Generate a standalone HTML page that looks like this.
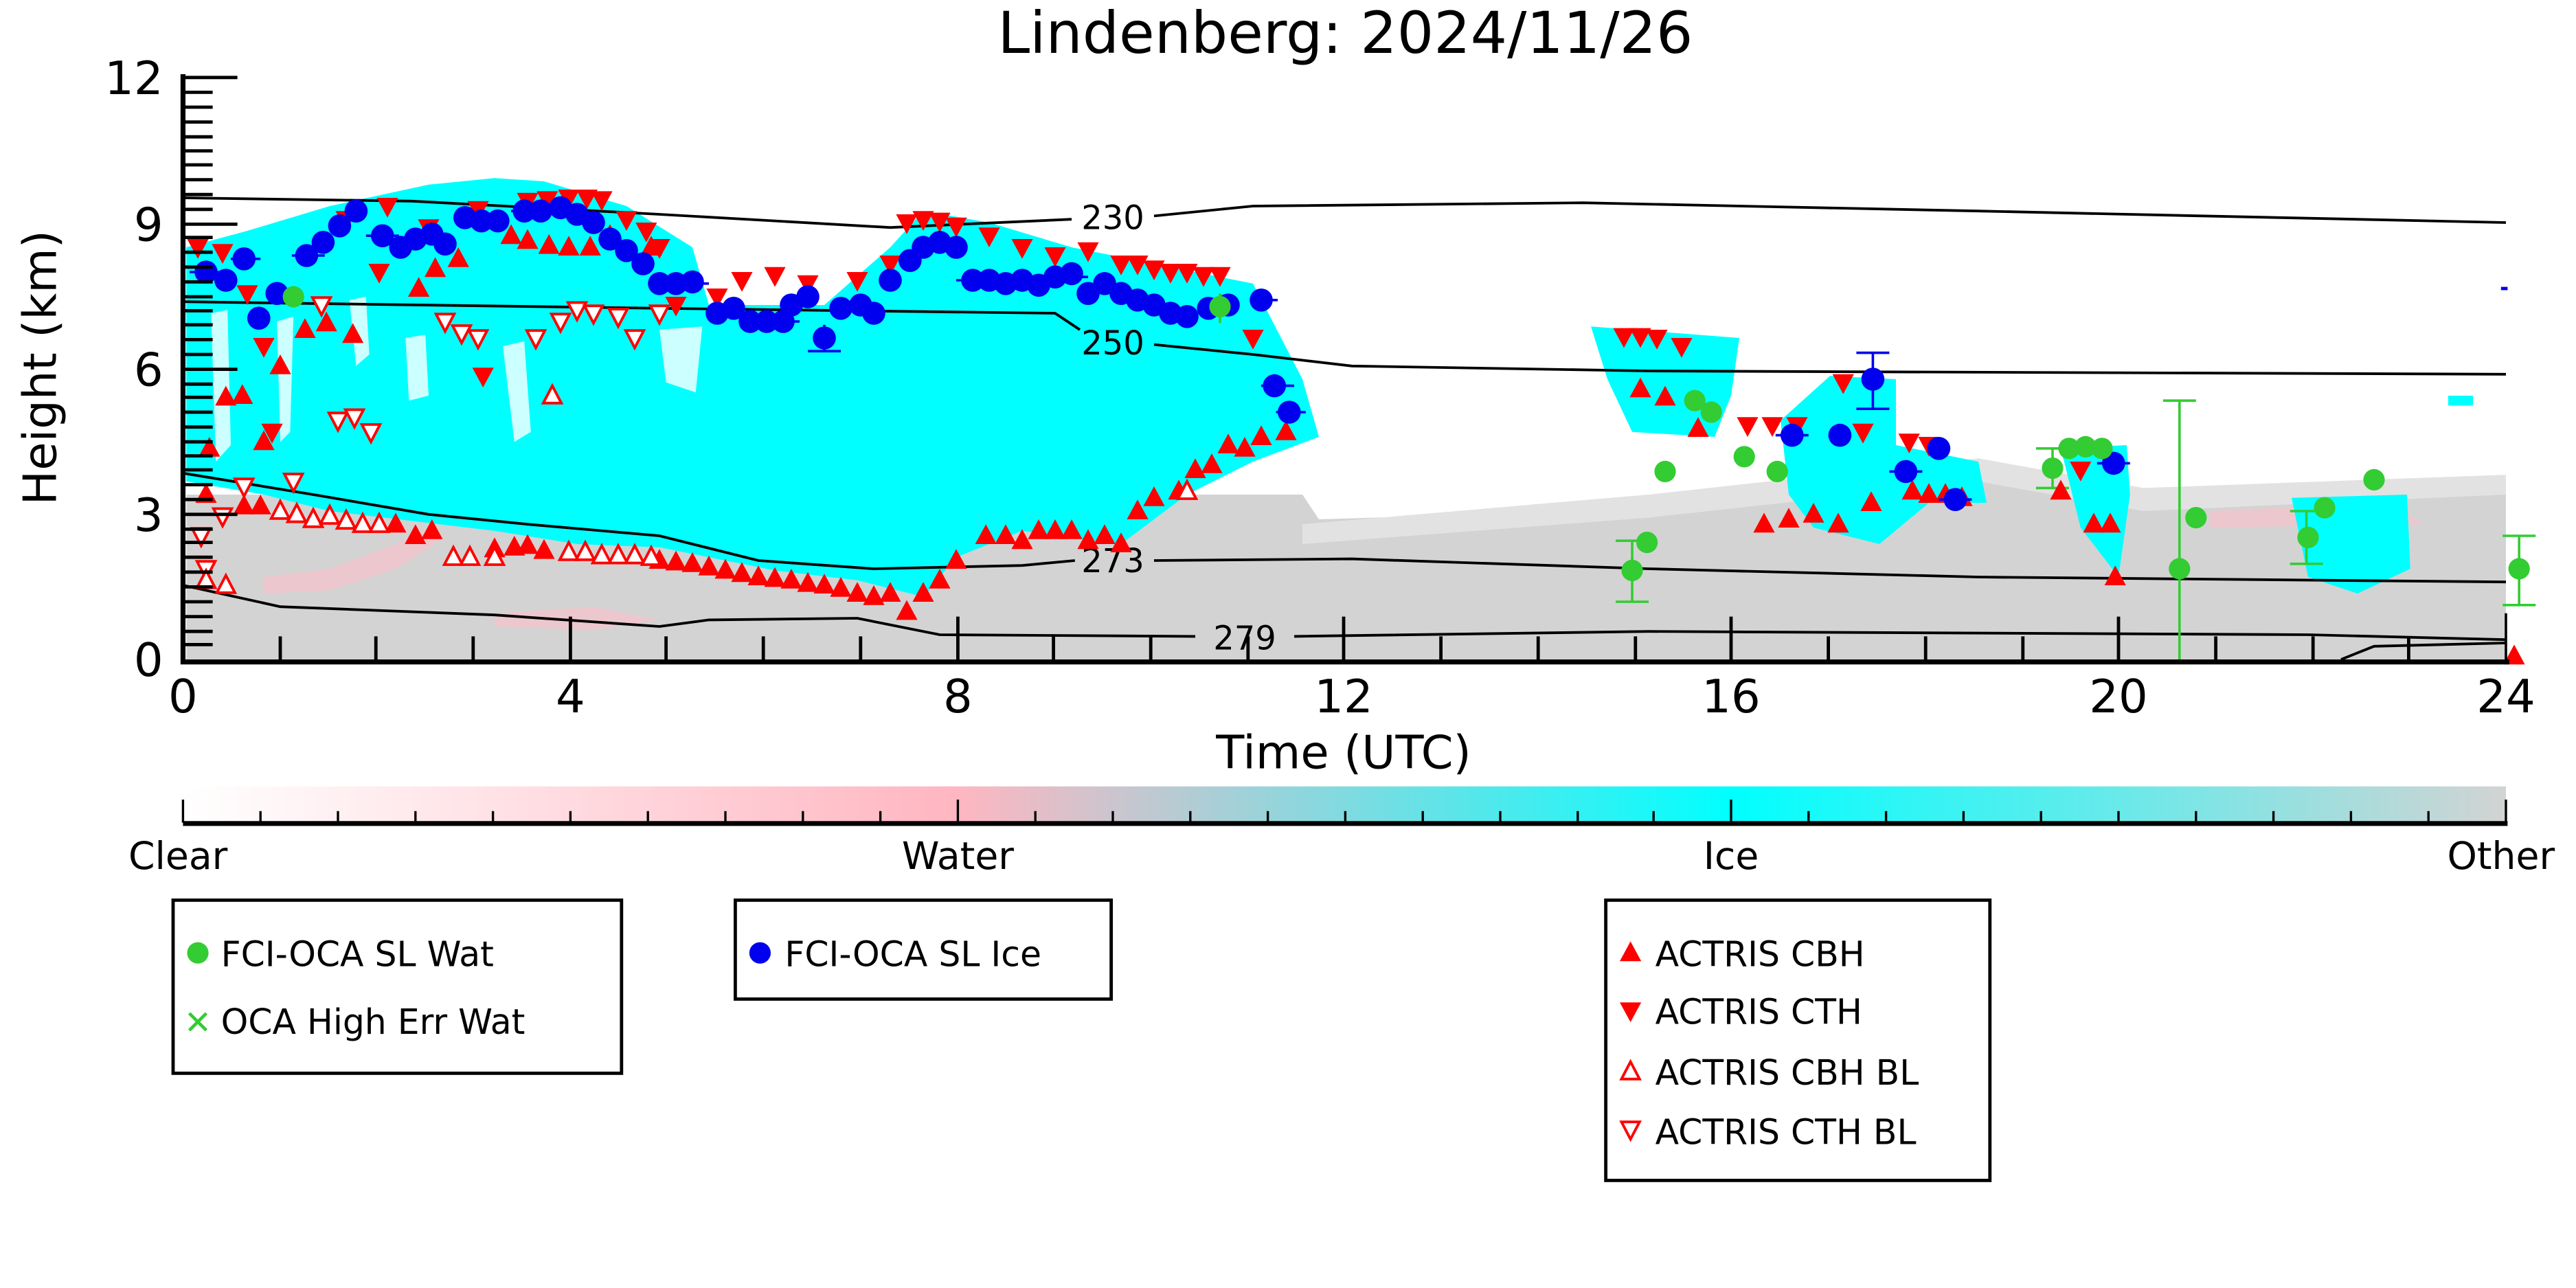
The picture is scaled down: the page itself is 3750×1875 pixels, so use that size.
<!DOCTYPE html>
<html><head><meta charset="utf-8"><style>html,body{margin:0;padding:0;background:#fff}svg{display:block}</style></head><body>
<svg width="3750" height="1875" viewBox="0 0 1562.5 781.25" xmlns="http://www.w3.org/2000/svg" font-family="DejaVu Sans, Liberation Sans, sans-serif">
<defs>
<linearGradient id="cb" x1="0" x2="1" y1="0" y2="0">
<stop offset="0" stop-color="#ffffff"/><stop offset="0.333" stop-color="#ffb6c1"/><stop offset="0.667" stop-color="#00ffff"/><stop offset="1" stop-color="#d3d3d3"/></linearGradient>
<circle id="bc" r="7" fill="#0000ee"/>
<circle id="gc" r="6.5" fill="#33cc33"/>
<path id="tu" d="M0,-7 L6.5,5 L-6.5,5Z" fill="#ff0000"/>
<path id="td" d="M0,7 L6.5,-5 L-6.5,-5Z" fill="#ff0000"/>
<path id="ou" d="M0,-6 L5.5,4.5 L-5.5,4.5Z" fill="#fff" stroke="#ff0000" stroke-width="1.6"/>
<path id="od" d="M0,6 L5.5,-4.5 L-5.5,-4.5Z" fill="#fff" stroke="#ff0000" stroke-width="1.6"/>
</defs>
<rect width="1562.5" height="781.25" fill="#fff"/>
<text x="816" y="32" font-size="35" text-anchor="middle">Lindenberg: 2024/11/26</text>

<!-- gray background -->
<path d="M113,300 L790,300 L800,315 L900,312 L1000,305 L1100,292 L1200,282 L1300,300 L1400,305 L1520,292 L1520,400 L113,400Z" fill="#d3d3d3"/>
<path d="M790,318 L1000,300 L1200,278 L1300,296 L1520,288 L1520,300 L1300,310 L1200,292 L1000,314 L790,330Z" fill="#e2e2e2"/>
<!-- pink traces -->
<path d="M160,350 L200,345 L240,330 L260,320 L270,326 L240,345 L200,358 L160,360Z" fill="#ffc0cb" opacity="0.6"/>
<path d="M300,372 L360,368 L400,376 L360,382 L300,380Z" fill="#ffc0cb" opacity="0.6"/>
<path d="M1340,310 L1450,305 L1470,318 L1340,320Z" fill="#ffc0cb" opacity="0.6"/>
<!-- cyan main -->
<path d="M113,150 L150,140 L200,125 L260,112 L300,108 L330,110 L380,125 L420,150 L430,185 L500,185 L540,150 L560,128 L600,135 L650,150 L700,160 L760,172 L790,230 L800,265 L760,280 L720,300 L680,330 L620,322 L580,338 L560,362 L520,352 L470,346 L400,332 L350,330 L300,322 L250,316 L200,310 L160,300 L113,292Z" fill="#00ffff"/>
<path d="M168,195 L178,192 L176,262 L170,268Z M212,182 L222,180 L224,215 L216,222Z M305,210 L318,207 L322,262 L312,268Z M400,200 L426,198 L422,238 L404,232Z M246,205 L258,203 L260,240 L248,243Z M128,190 L138,188 L140,270 L131,280Z" fill="#fff" opacity="0.8"/>
<!-- cyan right patches -->
<path d="M965,198 L1055,205 L1050,240 L1040,265 L990,262 L975,230Z" fill="#00ffff"/>
<path d="M1080,255 L1110,228 L1150,230 L1150,270 L1200,280 L1205,305 L1170,305 L1140,330 L1100,320 L1085,300Z" fill="#00ffff"/>
<path d="M1250,272 L1290,270 L1292,300 L1285,350 L1262,320Z" fill="#00ffff"/>
<path d="M1390,302 L1460,300 L1462,345 L1430,360 L1400,350Z" fill="#00ffff"/>
<path d="M1485,240 L1500,240 L1500,246 L1485,246Z" fill="#00ffff"/>

<!-- contours -->
<g fill="none" stroke="#000" stroke-width="1.6">
<path d="M111,120 L250,122 L400,130 L540,138 L650,133 M700,131 L760,125 L960,123 L1200,128 L1520,135"/>
<path d="M111,183 L400,187 L640,190 L655,200 M700,209 L760,215 L820,222 L1000,225 L1520,227"/>
<path d="M111,287 L190,300 L260,312 L320,318 L400,325 L460,340 L530,345 L620,343 L652,340 M700,340 L820,339 L1000,345 L1200,350 L1520,353"/>
<path d="M111,355 L170,368 L300,373 L400,380 L430,376 L520,375 L570,385 L725,386 M785,386 L1000,383 L1400,385 L1520,388 M1420,400 L1440,392 L1520,390"/>
</g>
<g font-size="20" text-anchor="middle">
<text x="675" y="139">230</text><text x="675" y="215">250</text><text x="675" y="347">273</text><text x="755" y="394">279</text>
</g>

<!-- green error bars -->
<g stroke="#33cc33" stroke-width="1.5" fill="none">
<path d="M1322,243 V400 M1312,243 H1332 M1528,325 V367 M1518,325 H1538 M1518,367 H1538 M990,328 V365 M980,328 H1000 M980,365 H1000 M1399,310 V342 M1389,310 H1409 M1389,342 H1409 M1245,272 V296 M1235,272 H1255 M1235,296 H1255 M740,178 V196"/>
</g>
<g stroke="#0000ee" stroke-width="1.5"><path d="M1136,214 V248 M1126,214 H1146 M1126,248 H1146 M500,197 V213 M490,213 H510"/></g>

<!-- red markers -->
<g>
<use href="#tu" x="127" y="272"/><use href="#tu" x="137" y="241"/><use href="#tu" x="147" y="240"/><use href="#tu" x="160" y="268"/><use href="#tu" x="170" y="222"/><use href="#tu" x="185" y="200"/><use href="#tu" x="198" y="196"/><use href="#tu" x="214" y="203"/>
<use href="#tu" x="125" y="300"/><use href="#tu" x="148" y="307"/><use href="#tu" x="158" y="307"/><use href="#tu" x="240" y="318"/><use href="#tu" x="252" y="325"/><use href="#tu" x="262" y="322"/><use href="#tu" x="300" y="333"/><use href="#tu" x="312" y="332"/><use href="#tu" x="320" y="331"/>
<use href="#tu" x="330" y="334"/><use href="#tu" x="400" y="340"/><use href="#tu" x="410" y="341"/><use href="#tu" x="420" y="342"/><use href="#tu" x="430" y="344"/><use href="#tu" x="440" y="346"/><use href="#tu" x="450" y="348"/><use href="#tu" x="460" y="350"/><use href="#tu" x="470" y="351"/><use href="#tu" x="480" y="352"/><use href="#tu" x="490" y="354"/><use href="#tu" x="500" y="355"/><use href="#tu" x="510" y="357"/><use href="#tu" x="520" y="360"/><use href="#tu" x="530" y="362"/><use href="#tu" x="540" y="360"/><use href="#tu" x="550" y="371"/><use href="#tu" x="560" y="360"/><use href="#tu" x="570" y="352"/><use href="#tu" x="580" y="340"/><use href="#tu" x="598" y="325"/><use href="#tu" x="610" y="325"/><use href="#tu" x="620" y="328"/><use href="#tu" x="630" y="322"/><use href="#tu" x="640" y="322"/><use href="#tu" x="650" y="322"/><use href="#tu" x="660" y="328"/><use href="#tu" x="670" y="325"/><use href="#tu" x="680" y="330"/><use href="#tu" x="690" y="310"/><use href="#tu" x="700" y="302"/><use href="#tu" x="715" y="298"/><use href="#tu" x="725" y="285"/><use href="#tu" x="735" y="282"/><use href="#tu" x="745" y="270"/><use href="#tu" x="755" y="272"/><use href="#tu" x="765" y="265"/><use href="#tu" x="780" y="262"/>
<use href="#tu" x="310" y="143"/><use href="#tu" x="320" y="146"/><use href="#tu" x="333" y="149"/><use href="#tu" x="345" y="150"/><use href="#tu" x="358" y="150"/><use href="#tu" x="370" y="143"/><use href="#tu" x="395" y="150"/><use href="#tu" x="264" y="163"/><use href="#tu" x="254" y="175"/><use href="#tu" x="278" y="157"/>
<use href="#tu" x="995" y="236"/><use href="#tu" x="1010" y="241"/><use href="#tu" x="1030" y="260"/><use href="#tu" x="1070" y="318"/><use href="#tu" x="1085" y="315"/><use href="#tu" x="1100" y="312"/><use href="#tu" x="1115" y="318"/><use href="#tu" x="1135" y="305"/><use href="#tu" x="1160" y="298"/><use href="#tu" x="1170" y="300"/><use href="#tu" x="1180" y="300"/><use href="#tu" x="1190" y="302"/><use href="#tu" x="1250" y="298"/><use href="#tu" x="1270" y="318"/><use href="#tu" x="1280" y="318"/><use href="#tu" x="1283" y="350"/><use href="#tu" x="1525" y="398"/>
<use href="#td" x="120" y="150"/><use href="#td" x="135" y="153"/><use href="#td" x="150" y="178"/><use href="#td" x="160" y="210"/><use href="#td" x="210" y="133"/><use href="#td" x="235" y="125"/><use href="#td" x="260" y="138"/><use href="#td" x="290" y="127"/><use href="#td" x="320" y="122"/><use href="#td" x="332" y="121"/><use href="#td" x="345" y="120"/><use href="#td" x="356" y="120"/><use href="#td" x="365" y="121"/><use href="#td" x="380" y="133"/><use href="#td" x="392" y="140"/><use href="#td" x="400" y="150"/><use href="#td" x="410" y="185"/><use href="#td" x="435" y="180"/><use href="#td" x="450" y="170"/><use href="#td" x="470" y="167"/><use href="#td" x="490" y="172"/><use href="#td" x="520" y="170"/><use href="#td" x="540" y="160"/><use href="#td" x="550" y="135"/><use href="#td" x="560" y="133"/><use href="#td" x="570" y="134"/><use href="#td" x="580" y="137"/><use href="#td" x="600" y="143"/><use href="#td" x="620" y="150"/><use href="#td" x="640" y="155"/><use href="#td" x="660" y="152"/><use href="#td" x="680" y="160"/><use href="#td" x="690" y="160"/><use href="#td" x="700" y="163"/><use href="#td" x="710" y="165"/><use href="#td" x="720" y="165"/><use href="#td" x="730" y="167"/><use href="#td" x="740" y="167"/><use href="#td" x="760" y="205"/><use href="#td" x="165" y="262"/><use href="#td" x="293" y="228"/><use href="#td" x="230" y="165"/>
<use href="#td" x="985" y="204"/><use href="#td" x="995" y="204"/><use href="#td" x="1005" y="205"/><use href="#td" x="1020" y="210"/><use href="#td" x="1060" y="258"/><use href="#td" x="1075" y="258"/><use href="#td" x="1090" y="258"/><use href="#td" x="1118" y="232"/><use href="#td" x="1130" y="262"/><use href="#td" x="1158" y="268"/><use href="#td" x="1170" y="270"/><use href="#td" x="1262" y="285"/>
<use href="#od" x="125" y="345"/><use href="#od" x="122" y="325"/><use href="#od" x="135" y="313"/><use href="#od" x="148" y="295"/><use href="#od" x="178" y="292"/><use href="#od" x="195" y="185"/><use href="#od" x="270" y="195"/><use href="#od" x="280" y="202"/><use href="#od" x="290" y="205"/><use href="#od" x="325" y="205"/><use href="#od" x="340" y="195"/><use href="#od" x="350" y="188"/><use href="#od" x="360" y="190"/><use href="#od" x="375" y="192"/><use href="#od" x="385" y="205"/><use href="#od" x="400" y="190"/><use href="#od" x="205" y="255"/><use href="#od" x="215" y="253"/><use href="#od" x="225" y="262"/>
<use href="#ou" x="125" y="352"/><use href="#ou" x="137" y="355"/><use href="#ou" x="170" y="310"/><use href="#ou" x="180" y="312"/><use href="#ou" x="190" y="315"/><use href="#ou" x="200" y="313"/><use href="#ou" x="210" y="316"/><use href="#ou" x="220" y="318"/><use href="#ou" x="230" y="318"/><use href="#ou" x="275" y="338"/><use href="#ou" x="285" y="338"/><use href="#ou" x="300" y="338"/><use href="#ou" x="345" y="335"/><use href="#ou" x="355" y="335"/><use href="#ou" x="365" y="337"/><use href="#ou" x="375" y="337"/><use href="#ou" x="385" y="337"/><use href="#ou" x="395" y="338"/><use href="#ou" x="335" y="240"/><use href="#ou" x="720" y="298"/>
</g>
<!-- blue -->
<g stroke="#0000ee" stroke-width="1.5">
<path d="M115,165 H135 M140,157 H158 M177,155 H197 M222,143 H242 M276,132 H296 M310,128 H330 M400,172 H430 M465,195 H485 M580,170 H600 M640,168 H660 M760,182 H775 M765,234 H785 M774,250 H792 M1077,264 H1097 M1146,286 H1166 M1176,303 H1196 M1272,281 H1292"/>
</g>
<g>
<use href="#bc" x="125" y="165"/><use href="#bc" x="137" y="170"/><use href="#bc" x="148" y="157"/><use href="#bc" x="157" y="193"/><use href="#bc" x="168" y="178"/><use href="#bc" x="186" y="155"/><use href="#bc" x="196" y="147"/><use href="#bc" x="206" y="137"/><use href="#bc" x="216" y="128"/><use href="#bc" x="232" y="143"/><use href="#bc" x="243" y="150"/><use href="#bc" x="252" y="145"/><use href="#bc" x="262" y="142"/><use href="#bc" x="270" y="148"/><use href="#bc" x="282" y="132"/><use href="#bc" x="292" y="134"/><use href="#bc" x="302" y="134"/><use href="#bc" x="318" y="128"/><use href="#bc" x="328" y="128"/><use href="#bc" x="340" y="126"/><use href="#bc" x="350" y="130"/><use href="#bc" x="360" y="135"/><use href="#bc" x="370" y="145"/><use href="#bc" x="380" y="152"/><use href="#bc" x="390" y="160"/><use href="#bc" x="400" y="172"/><use href="#bc" x="410" y="172"/><use href="#bc" x="420" y="171"/><use href="#bc" x="435" y="190"/><use href="#bc" x="445" y="187"/><use href="#bc" x="455" y="195"/><use href="#bc" x="465" y="195"/><use href="#bc" x="475" y="195"/><use href="#bc" x="480" y="185"/><use href="#bc" x="490" y="180"/><use href="#bc" x="500" y="205"/><use href="#bc" x="510" y="187"/><use href="#bc" x="522" y="185"/><use href="#bc" x="530" y="190"/><use href="#bc" x="540" y="170"/><use href="#bc" x="552" y="158"/><use href="#bc" x="560" y="150"/><use href="#bc" x="570" y="147"/><use href="#bc" x="580" y="150"/><use href="#bc" x="590" y="170"/><use href="#bc" x="600" y="170"/><use href="#bc" x="610" y="172"/><use href="#bc" x="620" y="170"/><use href="#bc" x="630" y="173"/><use href="#bc" x="640" y="168"/><use href="#bc" x="650" y="166"/><use href="#bc" x="660" y="178"/><use href="#bc" x="670" y="172"/><use href="#bc" x="680" y="178"/><use href="#bc" x="690" y="182"/><use href="#bc" x="700" y="185"/><use href="#bc" x="710" y="190"/><use href="#bc" x="720" y="192"/><use href="#bc" x="733" y="187"/><use href="#bc" x="745" y="185"/><use href="#bc" x="765" y="182"/><use href="#bc" x="773" y="234"/><use href="#bc" x="782" y="250"/><use href="#bc" x="1087" y="264"/><use href="#bc" x="1116" y="264"/><use href="#bc" x="1136" y="230"/><use href="#bc" x="1156" y="286"/><use href="#bc" x="1176" y="272"/><use href="#bc" x="1186" y="303"/><use href="#bc" x="1282" y="281"/>
<rect x="1517" y="174" width="4" height="2" fill="#0000ee"/>
</g>
<!-- green -->
<g>
<use href="#gc" x="178" y="180"/><use href="#gc" x="740" y="186"/><use href="#gc" x="990" y="346"/><use href="#gc" x="999" y="329"/><use href="#gc" x="1010" y="286"/><use href="#gc" x="1028" y="243"/><use href="#gc" x="1038" y="250"/><use href="#gc" x="1058" y="277"/><use href="#gc" x="1078" y="286"/><use href="#gc" x="1245" y="284"/><use href="#gc" x="1255" y="272"/><use href="#gc" x="1265" y="271"/><use href="#gc" x="1275" y="272"/><use href="#gc" x="1322" y="345"/><use href="#gc" x="1332" y="314"/><use href="#gc" x="1400" y="326"/><use href="#gc" x="1410" y="308"/><use href="#gc" x="1440" y="291"/><use href="#gc" x="1528" y="345"/>
</g>

<!-- axes -->
<g stroke="#000" fill="none">
<path d="M111,45 V401.5 H1522" stroke-width="3"/>
<path d="M1520,372 V401" stroke-width="1.5"/>
<path stroke-width="2" d="M111,47h18M111,56h18M111,65h18M111,74h18M111,83h18M111,91.5h18M111,100h18M111,109h18M111,118h18M111,127h18M111,136h33M111,144h18M111,153h18M111,162h18M111,171h18M111,180h18M111,188.5h18M111,197h18M111,206h18M111,215h18M111,224h33M111,233h18M111,241h18M111,250h18M111,259h18M111,268h18M111,276.5h18M111,285h18M111,294h18M111,303h18M111,312h33M111,321h18M111,329h18M111,338h18M111,347h18M111,356h18M111,365h18M111,374h18M111,383h18M111,391h18M111,47h33"/>
<path stroke-width="2" d="M170,400v-14M228,400v-14M287,400v-14M346,400v-26M404,400v-14M463,400v-14M522,400v-14M581,400v-26M639,400v-14M698,400v-14M757,400v-14M815,400v-26M874,400v-14M933,400v-14M992,400v-14M1050,400v-26M1109,400v-14M1168,400v-14M1227,400v-14M1285,400v-26M1344,400v-14M1403,400v-14M1461,400v-14"/>
</g>
<g font-size="28" text-anchor="end">
<text x="99" y="57">12</text><text x="99" y="146">9</text><text x="99" y="234">6</text><text x="99" y="322">3</text><text x="99" y="410">0</text>
</g>
<g font-size="28" text-anchor="middle">
<text x="111" y="432">0</text><text x="346" y="432">4</text><text x="581" y="432">8</text><text x="815" y="432">12</text><text x="1050" y="432">16</text><text x="1285" y="432">20</text><text x="1520" y="432">24</text>
<text x="815" y="466">Time (UTC)</text>
</g>
<text transform="translate(34,223) rotate(-90)" font-size="28" text-anchor="middle">Height (km)</text>

<!-- colorbar -->
<rect x="111" y="477" width="1409" height="21" fill="url(#cb)"/>
<g stroke="#000" stroke-width="1.4"><path d="M111,499v-14M1520,499v-14M581,499v-14M1050,499v-14M158,499v-7M205,499v-7M252,499v-7M299,499v-7M346,499v-7M393,499v-7M440,499v-7M487,499v-7M534,499v-7M628,499v-7M675,499v-7M722,499v-7M769,499v-7M816,499v-7M863,499v-7M910,499v-7M957,499v-7M1003,499v-7M1097,499v-7M1144,499v-7M1191,499v-7M1238,499v-7M1285,499v-7M1332,499v-7M1379,499v-7M1426,499v-7M1473,499v-7"/></g>
<path d="M111,499.5H1521" stroke="#000" stroke-width="3"/>
<g font-size="23" text-anchor="middle">
<text x="108" y="527">Clear</text><text x="581" y="527">Water</text><text x="1050" y="527">Ice</text><text x="1517" y="527">Other</text>
</g>

<!-- legends -->
<g fill="none" stroke="#000" stroke-width="2">
<rect x="105" y="546" width="272" height="105"/>
<rect x="446" y="546" width="228" height="60"/>
<rect x="974" y="546" width="233" height="170"/>
</g>
<g font-size="21">
<circle cx="120" cy="578" r="6.5" fill="#33cc33"/><text x="134" y="586">FCI-OCA SL Wat</text>
<text x="120" y="627" fill="#33cc33" text-anchor="middle" font-size="20">✕</text><text x="134" y="627">OCA High Err Wat</text>
<circle cx="461" cy="578" r="6.5" fill="#0000ee"/><text x="476" y="586">FCI-OCA SL Ice</text>
<use href="#tu" x="989" y="578"/><text x="1004" y="586">ACTRIS CBH</text>
<use href="#td" x="989" y="613"/><text x="1004" y="621">ACTRIS CTH</text>
<use href="#ou" x="989" y="650"/><text x="1004" y="658">ACTRIS CBH BL</text>
<use href="#od" x="989" y="685"/><text x="1004" y="694">ACTRIS CTH BL</text>
</g>
</svg>
</body></html>
